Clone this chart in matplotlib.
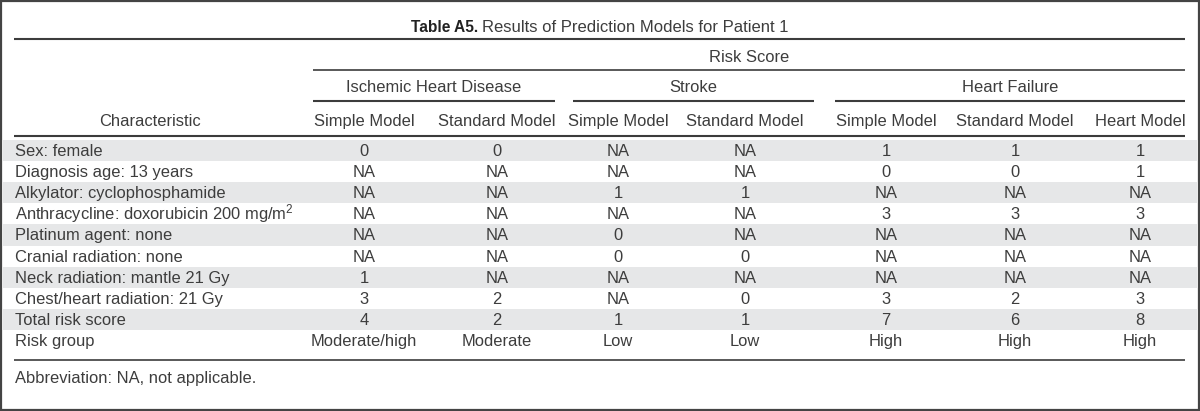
import matplotlib
matplotlib.use("Agg")
import matplotlib.pyplot as plt
from matplotlib.patches import Rectangle

plt.rcParams["font.family"] = ["Liberation Sans", "DejaVu Sans"]
plt.rcParams["mathtext.fontset"] = "custom"
plt.rcParams["mathtext.rm"] = "Liberation Sans"
plt.rcParams["mathtext.default"] = "regular"

TITLE_BOLD = "Table A5."
TITLE_REST = "Results of Prediction Models for Patient 1"
SPANNER = "Risk Score"
GROUPS = ["Ischemic Heart Disease", "Stroke", "Heart Failure"]
COLUMNS = ["Simple Model", "Standard Model", "Simple Model", "Standard Model",
           "Simple Model", "Standard Model", "Heart Model"]
ROW_LABELS = [
    "Sex: female",
    "Diagnosis age: 13 years",
    "Alkylator: cyclophosphamide",
    "Anthracycline: doxorubicin 200 mg/m$^{2}$",
    "Platinum agent: none",
    "Cranial radiation: none",
    "Neck radiation: mantle 21 Gy",
    "Chest/heart radiation: 21 Gy",
    "Total risk score",
    "Risk group",
]
CELLS = [
    ["0", "0", "NA", "NA", "1", "1", "1"],
    ["NA", "NA", "NA", "NA", "0", "0", "1"],
    ["NA", "NA", "1", "1", "NA", "NA", "NA"],
    ["NA", "NA", "NA", "NA", "3", "3", "3"],
    ["NA", "NA", "0", "NA", "NA", "NA", "NA"],
    ["NA", "NA", "0", "0", "NA", "NA", "NA"],
    ["1", "NA", "NA", "NA", "NA", "NA", "NA"],
    ["3", "2", "NA", "0", "3", "2", "3"],
    ["4", "2", "1", "1", "7", "6", "8"],
    ["Moderate/high", "Moderate", "Low", "Low", "High", "High", "High"],
]
FOOTNOTE = "Abbreviation: NA, not applicable."

# layout in pixel units (figure is 1200 x 411)
W, H = 1200, 411
LEFT, RIGHT = 14, 1185
COL_X = [364, 497, 618, 745, 886, 1015, 1140]
GROUP_SPANS = [(313, 555), (573, 814), (835, 1185)]
ROW_TOP, ROW_H = 140, 21.1
TXT = "#3d3d3d"
LINE = "#3c3c3c"
BAND = "#e6e7e8"
FS = 11.9

fig = plt.figure(figsize=(W / 100, H / 100), dpi=100)
ax = fig.add_axes([0, 0, 1, 1])
ax.set_xlim(0, W)
ax.set_ylim(H, 0)
ax.axis("off")

# outer frame
ax.add_patch(Rectangle((1, 1), W - 2, H - 2, fill=False, edgecolor="#444444", lw=1.6))

# title: bold label + regular text, centred as a pair
t1 = ax.text(0, 28, TITLE_BOLD + " ", fontsize=11.2, fontweight="bold", color="#222222",
             va="center", ha="left")
t2 = ax.text(0, 28, TITLE_REST, fontsize=12.0, color=TXT, va="center", ha="left")
fig.canvas.draw()
r = fig.canvas.get_renderer()
w1 = t1.get_window_extent(r).width
w2 = t2.get_window_extent(r).width
x0 = W / 2 - (w1 + w2) / 2
t1.set_x(x0)
t2.set_x(x0 + w1)

ax.plot([LEFT, RIGHT], [39, 39], color=LINE, lw=1.5, solid_capstyle="butt")

# spanner
ax.text((GROUP_SPANS[0][0] + RIGHT) / 2, 57, SPANNER, fontsize=FS, color=TXT,
        ha="center", va="center")
ax.plot([GROUP_SPANS[0][0], RIGHT], [70.5, 70.5], color=LINE, lw=1.2, solid_capstyle="butt")

# groups
for name, (a, b) in zip(GROUPS, GROUP_SPANS):
    ax.text((a + b) / 2, 88, name, fontsize=FS, color=TXT, ha="center", va="center")
    ax.plot([a, b], [101.5, 101.5], color=LINE, lw=1.5, solid_capstyle="butt")

# column headers
ax.text(150, 121, "Characteristic", fontsize=FS, color=TXT, ha="center", va="center")
for x, c in zip(COL_X, COLUMNS):
    ax.text(x, 121, c, fontsize=FS, color=TXT, ha="center", va="center")
ax.plot([LEFT, RIGHT], [136, 136], color=LINE, lw=1.5, solid_capstyle="butt")

# body rows (baseline-aligned so the superscript row sits like the others)
for i, (label, row) in enumerate(zip(ROW_LABELS, CELLS)):
    top = ROW_TOP + i * ROW_H
    yb = top + ROW_H / 2 + 5.5
    if i % 2 == 0:
        ax.add_patch(Rectangle((3, top), W - 6, ROW_H, facecolor=BAND, edgecolor="none"))
    ax.text(LEFT + 1, yb, label, fontsize=FS, color=TXT, ha="left", va="baseline")
    for x, v in zip(COL_X, row):
        ax.text(x, yb, v, fontsize=FS, color=TXT, ha="center", va="baseline")

bottom = ROW_TOP + len(ROW_LABELS) * ROW_H
ax.plot([LEFT, RIGHT], [bottom + 8.5, bottom + 8.5], color=LINE, lw=1.2, solid_capstyle="butt")

ax.text(LEFT + 1, 378, FOOTNOTE, fontsize=FS, color=TXT, ha="left", va="center")

fig.savefig("out.png", dpi=100, facecolor="white")
